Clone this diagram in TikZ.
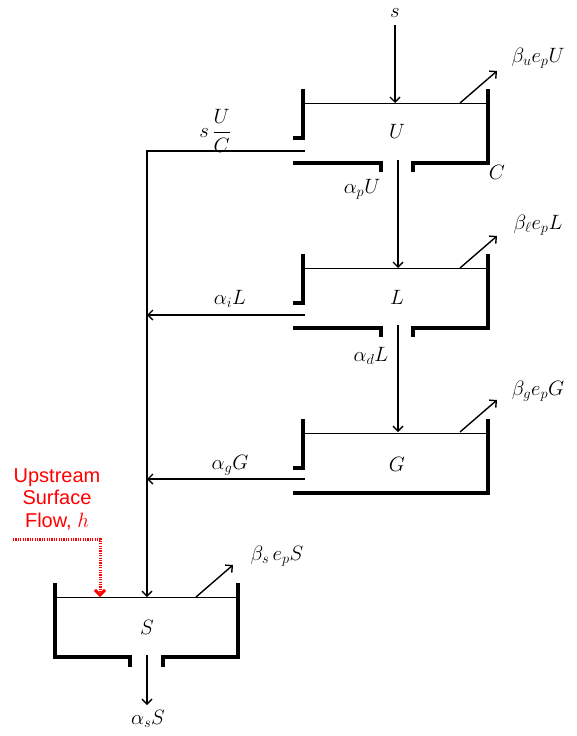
\documentclass[tikz,border=0pt]{standalone}
\usepackage{amsmath, amssymb}
\usepackage{fontspec}
\usepackage{xcolor}
\usepackage{tikz}
\usetikzlibrary{calc, positioning, arrows.meta}
\newfontfamily\flowfont{Liberation Sans}

\begin{document}
\begin{tikzpicture}[>={Straight Barb[length=5pt, width=10pt]}, x=1pt, y=-1pt,
    wall/.style={line width=3.6pt},
    level/.style={line width=1pt},
    flow/.style={line width=1.4pt, ->},
    every node/.style={font=\huge}]

    \useasboundingbox (0,0) rectangle (576,736);

    % =================================================================
    % 1. BUCKET SHAPES (U, L, G)
    % =================================================================
    % #1: vertical offset of the bucket
    % #2: 1 = outlet in the floor, 0 = closed floor
    \newcommand{\drawbucket}[2]{
        \begin{scope}[shift={(0,#1)}]
            % left wall, with a gap for the side outflow
            \draw[wall] (293,138) -- (303,138) -- (303,89);
            % floor and right wall
            \ifnum#2=1
                \draw[wall] (293,163) -- (381,163) -- (381,172);
                \draw[wall] (413,172) -- (413,163) -- (488,163) -- (488,89);
            \else
                \draw[wall] (293,163) -- (488,163) -- (488,89);
            \fi
            % water level
            \draw[level] (303,103) -- (488,103);
        \end{scope}
    }

    \drawbucket{0}{1};
    \drawbucket{165}{1};
    \drawbucket{330}{0};

    % bucket S (lowest one)
    \draw[wall] (55,583) -- (55,657) -- (130,657) -- (130,667);
    \draw[wall] (163,667) -- (163,657) -- (238,657) -- (238,583);
    \draw[level] (55,597) -- (238,597);

    % =================================================================
    % 2. MAIN POINTS
    % =================================================================
    \coordinate (Uin) at (395,103);
    \coordinate (Uout) at (398,160);
    \coordinate (Lin) at (398,268);
    \coordinate (Lout) at (398,325);
    \coordinate (Gin) at (398,432);
    \coordinate (Usd) at (305,151);
    \coordinate (Lsd) at (305,315);
    \coordinate (Gsd) at (305,479);
    \coordinate (Corner) at (147,151);
    \coordinate (Lhit) at (147,315);
    \coordinate (Ghit) at (147,479);
    \coordinate (Sin) at (147,597);
    \coordinate (Sout) at (147,655);
    \coordinate (Send) at (147,705);

    % evaporation points
    \coordinate (Uev) at (460,103);
    \coordinate (Uev2) at (497,71);
    \coordinate (Lev) at (460,268);
    \coordinate (Lev2) at (497,236);
    \coordinate (Gev) at (460,432);
    \coordinate (Gev2) at (497,400);
    \coordinate (Sev) at (196,597);
    \coordinate (Sev2) at (233,565);

    % upstream inflow
    \coordinate (hStart) at (13,539);
    \coordinate (hBend) at (100,539);
    \coordinate (hIn) at (100,597);

    % =================================================================
    % 3. LABELS
    % =================================================================
    \node[inner sep=1pt] (s) at (395,13) {$s$};
    \node (Ulab) at (397,131) {$U$};
    \node (Llab) at (397,297) {$L$};
    \node (Glab) at (397,464) {$G$};
    \node (Slab) at (147,627) {$S$};
    \node (Clab) at (497,172) {$C$};

    \node (Ueplab) at (538,58) {$\beta_u e_p U$};
    \node (Leplab) at (538,225) {$\beta_\ell e_p L$};
    \node (Geplab) at (538,391) {$\beta_g e_p G$};
    \node (Seplab) at (277,556) {$\beta_s\, e_p S$};

    \node (apU) at (362,189) {$\alpha_p U$};
    \node (adL) at (371,356) {$\alpha_d L$};
    \node (sUC) at (215,131) {$s\,\dfrac{U}{C}$};
    \node (aiL) at (230,299) {$\alpha_i L$};
    \node (agG) at (230,465) {$\alpha_g G$};
    \node (asS) at (148,719) {$\alpha_s S$};

    \node[red, align=center, font=\flowfont\fontsize{20}{22.5}\selectfont]
        (uflow) at (57,499) {Upstream\\Surface\\Flow, $h$};

    % =================================================================
    % 4. FLOWS
    % =================================================================
    \draw[flow] (s) ++(0,12) -- (Uin);
    \draw[flow] (Uout) -- (Lin);
    \draw[flow] (Lout) -- (Gin);
    \draw[flow] (Sout) -- (Send);

    \draw[flow] (Usd) -- (Corner) -- (Sin);
    \draw[flow] (Lsd) -- (Lhit);
    \draw[flow] (Gsd) -- (Ghit);

    \draw[flow] (Uev) -- (Uev2);
    \draw[flow] (Lev) -- (Lev2);
    \draw[flow] (Gev) -- (Gev2);
    \draw[flow] (Sev) -- (Sev2);

    \draw[red, line width=3pt, dash pattern=on 1.2pt off 1.2pt, ->]
        (hStart) -- (hBend) -- (hIn);

\end{tikzpicture}
\end{document}
